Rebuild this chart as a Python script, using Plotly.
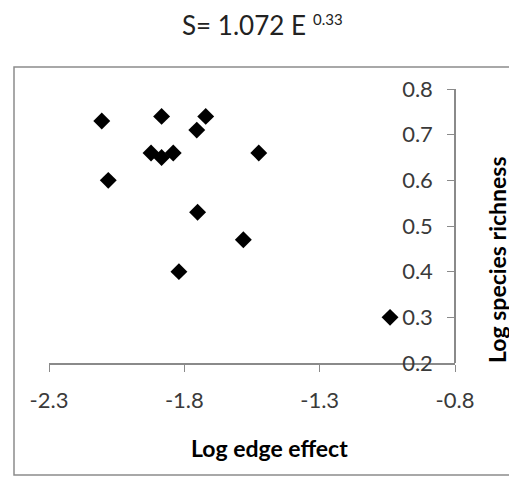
import plotly.graph_objects as go

log_edge_effect = [-2.105, -1.884, -1.721, -1.754, -1.923, -1.884, -1.841, -1.525, -2.081, -1.751, -1.582, -1.820, -1.040]
log_species_richness = [0.73, 0.74, 0.74, 0.71, 0.66, 0.65, 0.66, 0.66, 0.60, 0.53, 0.47, 0.40, 0.30]
x_ticks = [-2.3, -1.8, -1.3, -0.8]
y_ticks = [0.2, 0.3, 0.4, 0.5, 0.6, 0.7, 0.8]

FONT = "Lato"
OFF = 8  # page body margin
W, H = 517 - OFF, 478 - OFF
# plot area in reference pixels: x 49..455, y 89..363
L = 49 - OFF
T = 89 - OFF
R = W - (455 - OFF)
B = H - (363 - OFF)

fig = go.Figure()
fig.add_trace(go.Scatter(
    x=log_edge_effect, y=log_species_richness, mode="markers",
    marker=dict(symbol="diamond", size=13, color="black"),
    cliponaxis=False, showlegend=False, hoverinfo="x+y",
))

axis_gray = "#8a8a8a"
tick_color = "#3a3a3a"
fig.update_layout(
    width=W, height=H,
    margin=dict(l=L, r=R, t=T, b=B, autoexpand=False),
    paper_bgcolor="white", plot_bgcolor="white",
    font=dict(family=FONT, color=tick_color, size=17),
    xaxis=dict(
        range=[-2.3, -0.8], tickvals=x_ticks, ticktext=[f"{v:g}" for v in x_ticks],
        showgrid=False, zeroline=False, showline=True, linecolor=axis_gray, linewidth=1.5,
        ticks="outside", ticklen=7, tickcolor=axis_gray, ticklabelstandoff=10,
        tickfont=dict(size=22, color=tick_color),
    ),
    yaxis=dict(
        range=[0.2, 0.8], tickvals=y_ticks, ticktext=[f"{v:g}" for v in y_ticks],
        anchor="free", position=1.0, side="left",
        showgrid=False, zeroline=False, showline=True, linecolor=axis_gray, linewidth=1.5,
        ticks="outside", ticklen=7, tickcolor=axis_gray, ticklabelstandoff=10,
        tickfont=dict(size=22, color=tick_color),
    ),
)

pw = W - L - R
ph = H - T - B
def px(x):
    return (x - OFF - L) / pw
def py(y):
    return (H - B - (y - OFF)) / ph

fig.add_shape(type="rect", xref="paper", yref="paper",
              x0=px(14), x1=px(540), y0=py(475), y1=py(67),
              line=dict(color="#8c8c8c", width=1.5), layer="below")

fig.add_annotation(text="S= 1.072 E", xref="paper", yref="paper",
                   x=px(244), y=py(42), xanchor="center", yanchor="bottom",
                   borderpad=0, showarrow=False,
                   font=dict(family=FONT, size=26, color="#222222"))
fig.add_annotation(text="0.33", xref="paper", yref="paper",
                   x=px(328), y=py(29), xanchor="center", yanchor="bottom",
                   borderpad=0, showarrow=False,
                   font=dict(family=FONT, size=15, color="#222222"))
fig.add_annotation(text="<b>Log edge effect</b>", xref="paper", yref="paper",
                   x=px(269), y=py(448), xanchor="center", yanchor="middle", showarrow=False,
                   font=dict(family=FONT, size=23, color="black"))
fig.add_annotation(text="<b>Log species richness</b>", xref="paper", yref="paper",
                   x=px(497), y=py(260), xanchor="center", yanchor="middle",
                   showarrow=False, textangle=-90,
                   font=dict(family=FONT, size=23, color="black"))

fig.write_html("out.html")
